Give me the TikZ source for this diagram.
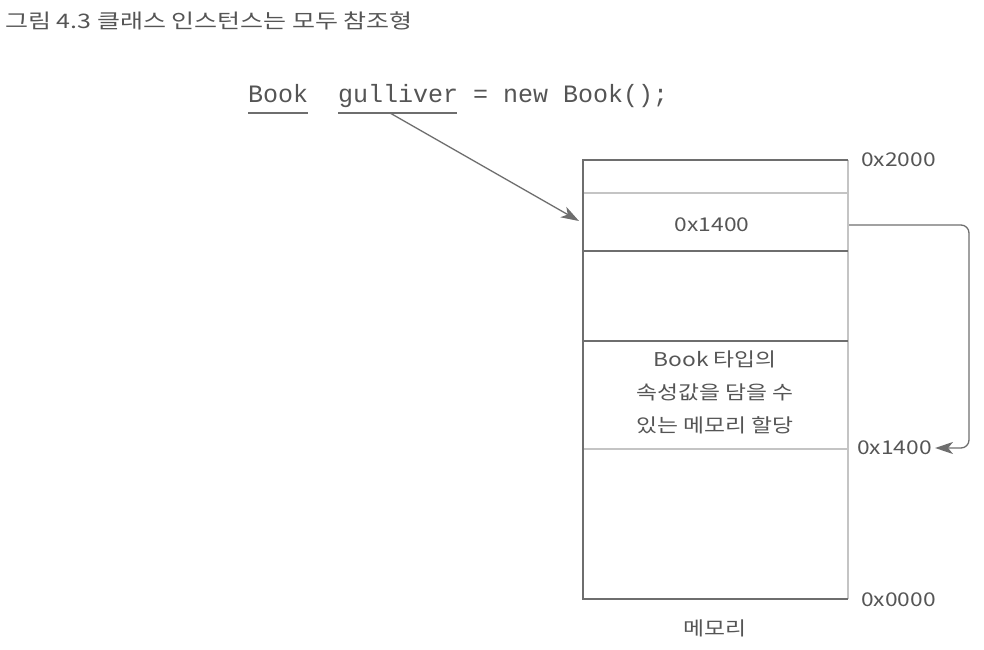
\documentclass[tikz,border=0pt]{standalone}
\usepackage{fontspec}
\setmainfont{Noto Sans CJK KR}
\newfontfamily\kr[FakeStretch=1.2]{Noto Sans CJK KR}
\newfontfamily\krtitle[FakeStretch=1.25]{Noto Sans CJK KR}
\newfontfamily\codefont{Liberation Mono}
\usetikzlibrary{arrows.meta}
\definecolor{ink}{HTML}{555555}
\definecolor{edge}{HTML}{6E6E6E}
\definecolor{light}{HTML}{C4C4C4}
\tikzset{
  lbl/.style={inner sep=0pt, text=ink, font=\kr\fontsize{19bp}{22bp}\selectfont},
  code/.style={inner sep=0pt, text=ink, font=\codefont\fontsize{25bp}{28bp}\selectfont, anchor=base west},
  conn/.style={draw=edge, line width=1.3bp, -{Stealth[length=18bp,width=12bp,inset=5bp]}},
}
\begin{document}
\begin{tikzpicture}[x=1bp,y=-1bp]
\useasboundingbox (0,0) rectangle (984,650);
% title
\node[lbl, anchor=west, font=\krtitle\fontsize{20bp}{22bp}\selectfont] (title) at (5,21) {그림 4.3 클래스 인스턴스는 모두 참조형};
% code line
\node[code] (book) at (248,103) {Book};
\node[code] (gul) at (338,103) {gulliver};
\node[code] (rest) at (473,103) {= new Book();};
\draw[edge, line width=1.3bp] (248,113) -- (308,113);
\draw[edge, line width=1.3bp] (338,113) -- (457,113);
\coordinate (gstart) at (390,113);
% memory box
\draw[light, line width=1.2bp] (583,193) -- (848,193);
\draw[light, line width=1.2bp] (583,449) -- (848,449);
\draw[light, line width=1.4bp] (848,160) -- (848,599);
\draw[edge, line width=1.3bp] (583,251) -- (848,251);
\draw[edge, line width=1.3bp] (583,341) -- (848,341);
\draw[edge, line width=1.4bp] (848,160) -- (583,160) -- (583,599) -- (848,599);
% cell contents
\node[lbl] (ref) at (712,225) {0x1400};
\node[lbl, align=center, font=\kr\fontsize{19bp}{33bp}\selectfont] (obj) at (715,392) {Book 타입의\\속성값을 담을 수\\있는 메모리 할당};
\node[lbl] (memlbl) at (715,628) {메모리};
% addresses
\node[lbl, anchor=west] (a2000) at (861,160) {0x2000};
\node[lbl, anchor=west] (a1400) at (857,448) {0x1400};
\node[lbl, anchor=west] (a0000) at (861,600) {0x0000};
% connectors
\draw[conn] (gstart) -- (579,221);
\coordinate (rs) at (849,225);
\draw[conn, rounded corners=8bp] (rs) -- (969,225) -- (969,448) -- ([xshift=3bp]a1400.east);
\end{tikzpicture}
\end{document}
